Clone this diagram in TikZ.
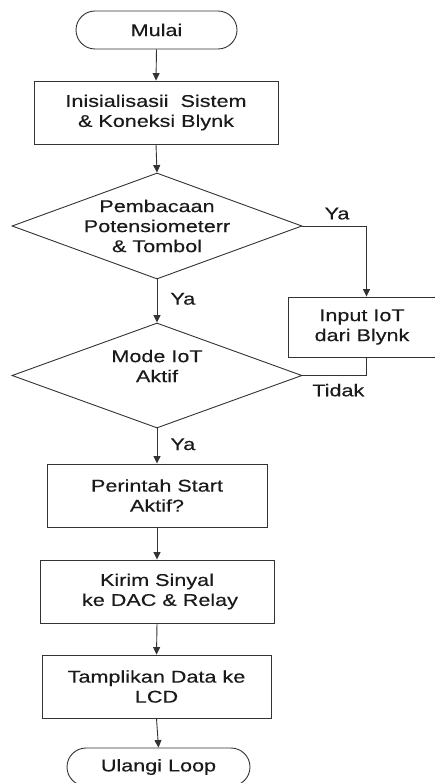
\documentclass[tikz,border=0pt]{standalone}
\usepackage{fontspec}
\setmainfont{Liberation Sans}[FakeStretch=1.27,FakeBold=0.3]
\usetikzlibrary{shapes.geometric,arrows.meta}
\definecolor{ln}{HTML}{333333}
\definecolor{tx}{HTML}{1A1A1A}
\begin{document}
\begin{tikzpicture}[x=1pt,y=-1pt,
  every node/.style={font=\fontsize{17}{20}\selectfont,text=tx},
  base/.style={draw=ln,line width=0.9pt,inner sep=0pt,align=center},
  term/.style={base,rectangle,rounded corners=19pt},
  proc/.style={base,rectangle},
  dia/.style={base,diamond},
  lbl/.style={inner sep=0pt},
  arr/.style={draw=ln,line width=0.9pt,-{Triangle[width=7pt,length=7.5pt]}},
  con/.style={draw=ln,line width=0.9pt}]
\useasboundingbox (0,0) rectangle (434,783);
\fill[white] (0,0) rectangle (434,783);

\node[term,minimum width=161pt,minimum height=38pt] (start) at (156.5,30) {Mulai};
\node[proc,minimum width=244pt,minimum height=63pt] (init) at (156,112.5) {Inisialisasii\ \ Sistem\\\& Koneksi Blynk};
\node[dia,minimum width=290pt,minimum height=106pt] (d1) at (157,226) {};
\node[lbl,align=center] (d1t) at (157,226) {Pembacaan\\Potensiometerr\\\& Tombol};
\node[proc,minimum width=157pt,minimum height=60pt] (inp) at (366.5,327) {\hspace*{-9pt}Input IoT\\\hspace*{-9pt}dari Blynk};
\node[dia,minimum width=290pt,minimum height=105pt] (d2) at (157,375.5) {};
\node[lbl,align=center] (d2t) at (157,366) {Mode IoT\\Aktif};
\node[proc,minimum width=220pt,minimum height=63pt] (cmd) at (157,495.5) {Perintah Start\\Aktif?};
\node[proc,minimum width=234pt,minimum height=63pt] (send) at (157,591.5) {Kirim Sinyal\\\ ke DAC \& Relay};
\node[proc,minimum width=229pt,minimum height=63pt] (lcd) at (156.5,686.5) {Tamplikan Data ke\\LCD};
\node[term,minimum width=183pt,minimum height=38pt] (loop) at (158.5,767) {Ulangi Loop};

\draw[arr] (start.south) -- (init.north);
\draw[arr] (init.south) -- (d1.north);
\draw[arr] (d1.south) -- node[lbl,right=13pt,pos=0.45] {Ya} (d2.north);
\draw[arr] (d1.east) -| node[lbl,above=6pt,pos=0.27] {Ya} (inp.north);
\draw[con] (inp.south) |- node[lbl,below=8pt,pos=0.72] {Tidak} (d2.east);
\draw[arr] (d2.south) -- node[lbl,right=13pt,pos=0.45] {Ya} (cmd.north);
\draw[arr] (cmd.south) -- (send.north);
\draw[arr] (send.south) -- (lcd.north);
\draw[arr] (lcd.south) -- (loop.north);
\end{tikzpicture}
\end{document}
